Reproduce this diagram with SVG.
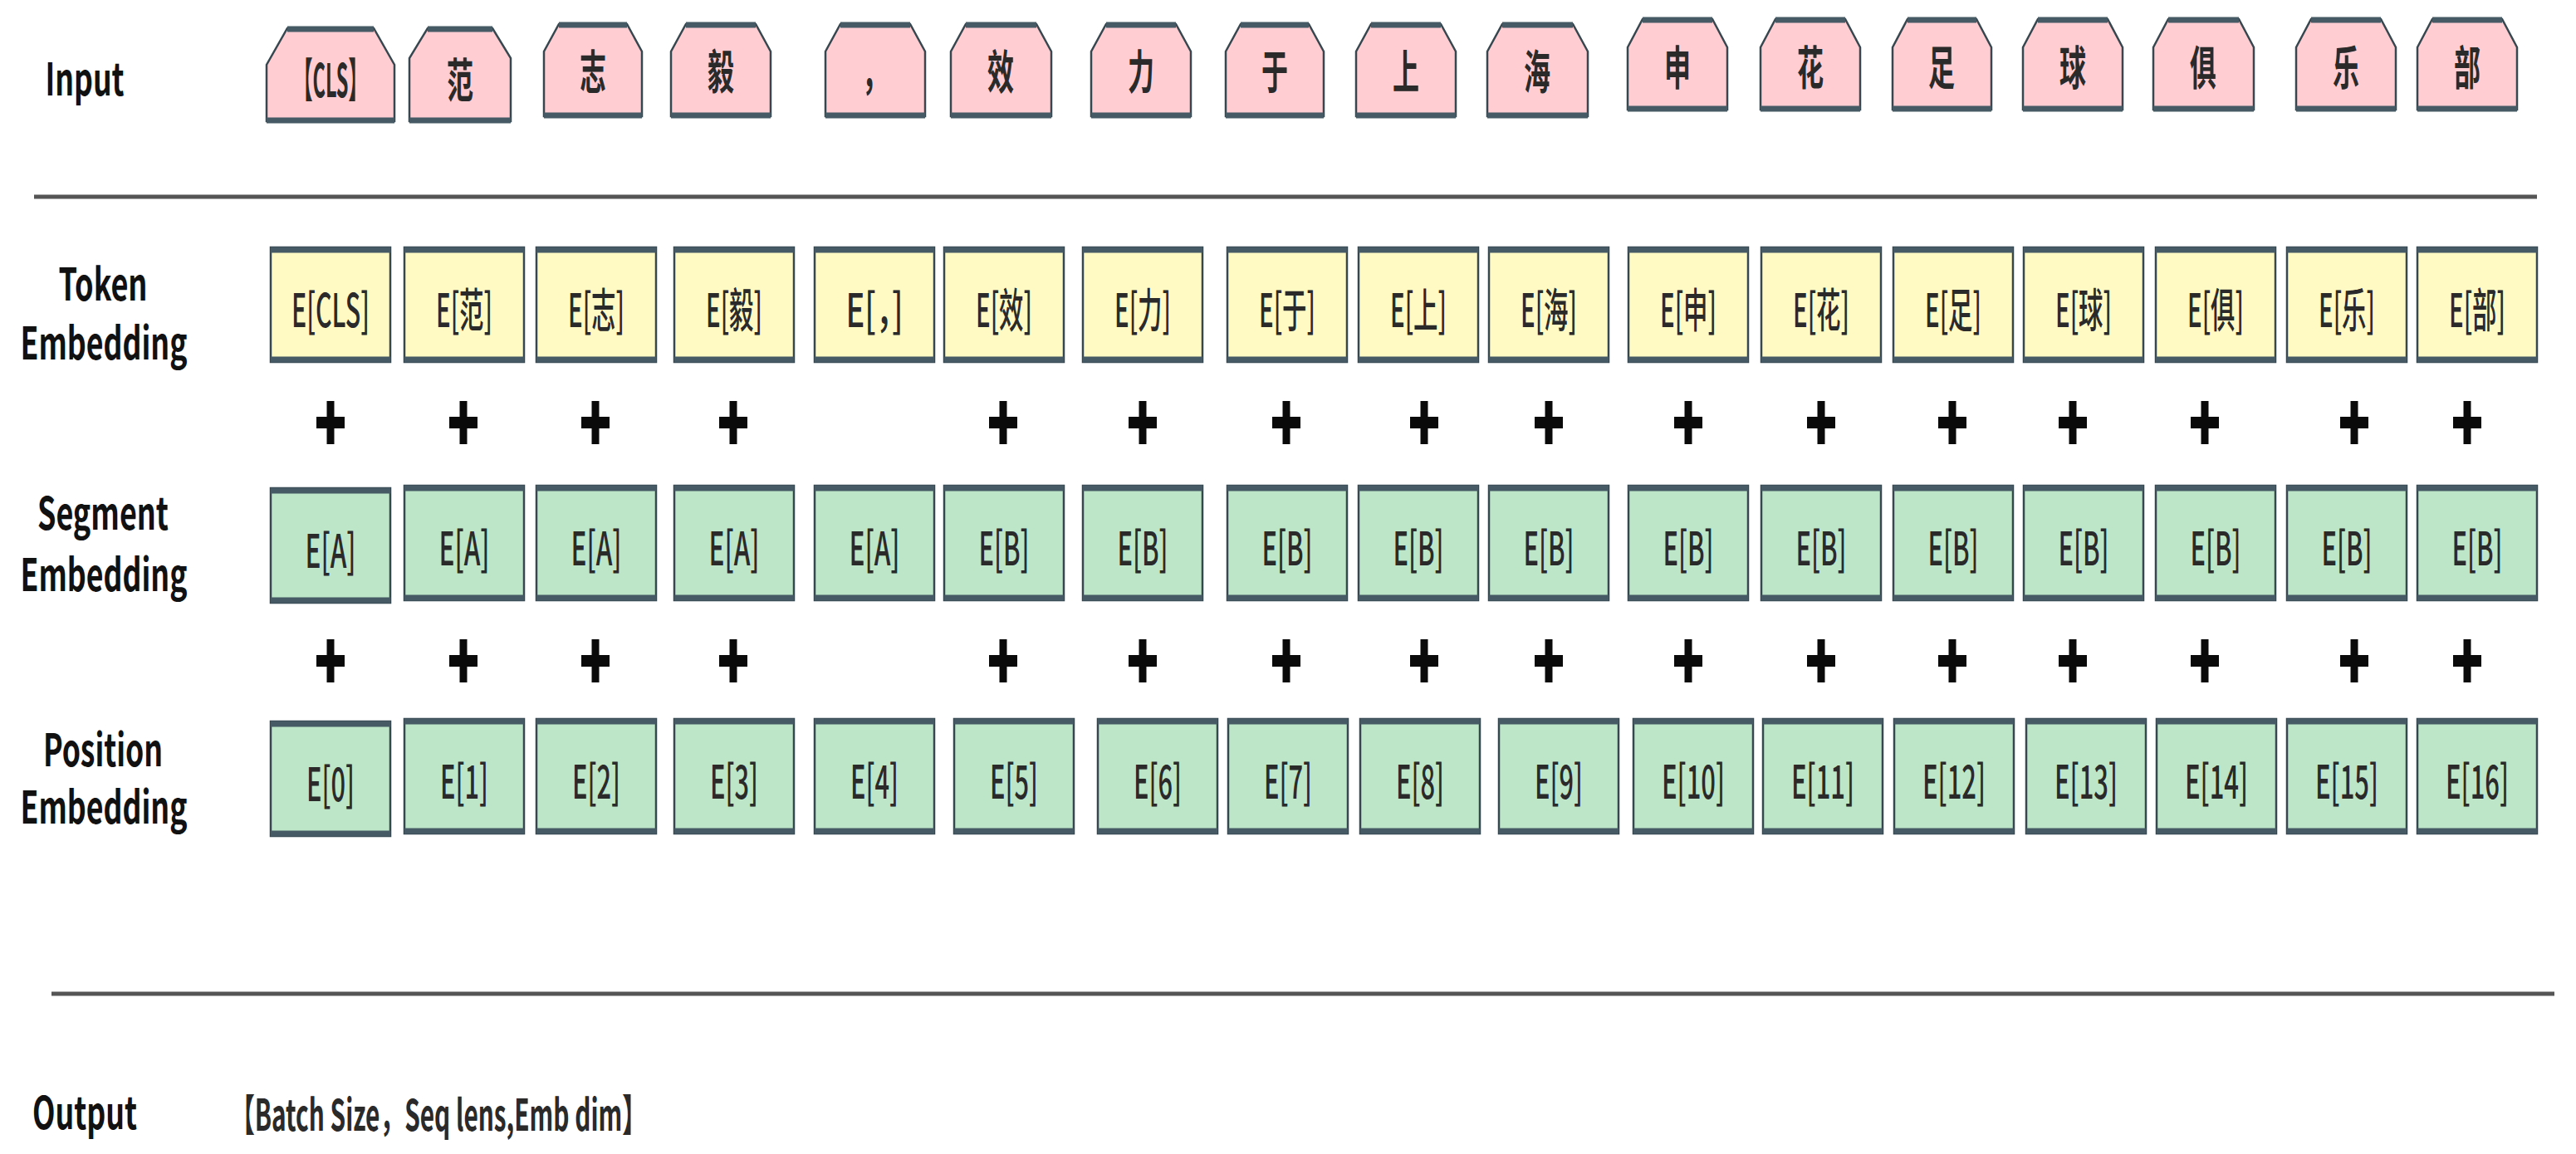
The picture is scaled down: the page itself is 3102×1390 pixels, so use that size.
<svg xmlns="http://www.w3.org/2000/svg" width="3102" height="1390" viewBox="0 0 3102 1390">
<style>
.in{fill:#ffcdd2;stroke:#37474f;stroke-width:2.5}
.tk{fill:#fff9c4;stroke:#37474f;stroke-width:2.5}
.gr{fill:#bde6c8;stroke:#37474f;stroke-width:2.5}
.band{stroke:#455a64;stroke-width:7}
.t{font-family:"Noto Sans CJK SC","Open Sans",sans-serif;font-size:56px;font-weight:500;fill:#2a2a2a;text-anchor:middle;dominant-baseline:central}
.c{font-family:"Noto Sans CJK SC",sans-serif;font-size:56px;font-weight:bold;fill:#2a2a2a;text-anchor:middle;dominant-baseline:central}
.lb{font-family:"Noto Sans CJK SC","Open Sans",sans-serif;font-size:54px;font-weight:bold;fill:#111;text-anchor:middle}
.rule{stroke:#555;stroke-width:5}
.plus{fill:#0a0a0a}
</style>
<defs>
<g id="p"><rect x="-4.5" y="-26" width="9" height="52"/><rect x="-17" y="-7" width="34" height="14"/></g>
</defs>
<g id="labels">
<text class="lb" x="102" y="115" textLength="95" lengthAdjust="spacingAndGlyphs">Input</text>
<text class="lb" x="124" y="362" textLength="107" lengthAdjust="spacingAndGlyphs">Token</text>
<text class="lb" x="125" y="433" textLength="201" lengthAdjust="spacingAndGlyphs">Embedding</text>
<text class="lb" x="124" y="638" textLength="158" lengthAdjust="spacingAndGlyphs">Segment</text>
<text class="lb" x="125" y="712" textLength="201" lengthAdjust="spacingAndGlyphs">Embedding</text>
<text class="lb" x="124" y="923" textLength="144" lengthAdjust="spacingAndGlyphs">Position</text>
<text class="lb" x="125" y="992" textLength="201" lengthAdjust="spacingAndGlyphs">Embedding</text>
<text class="lb" x="102" y="1360" textLength="126" lengthAdjust="spacingAndGlyphs">Output</text>
<text class="lb" x="528" y="1362" textLength="502" lengthAdjust="spacingAndGlyphs" style="font-size:52px;fill:#2a2a2a">【Batch Size，Seq lens,Emb dim】</text>
</g>
<g id="rules">
<line class="rule" x1="41" y1="237" x2="3055" y2="237"/>
<line class="rule" x1="62" y1="1197" x2="3076" y2="1197"/>
</g>
<g id="input">
<g id="in0"><path class="in" d="M346,34H450L475,78V146H321V78Z"/><line class="band" x1="346" y1="35" x2="450" y2="35"/><line class="band" x1="321" y1="145" x2="475" y2="145"/><text class="c" x="398" y="92" textLength="90" lengthAdjust="spacingAndGlyphs">【CLS】</text></g>
<g id="in1"><path class="in" d="M515,34H593L615,70V146H493V70Z"/><line class="band" x1="515" y1="35" x2="593" y2="35"/><line class="band" x1="493" y1="145" x2="615" y2="145"/><text class="c" x="554" y="92" textLength="32" lengthAdjust="spacingAndGlyphs">范</text></g>
<g id="in2"><path class="in" d="M673,29H755L773,62V140H655V62Z"/><line class="band" x1="673" y1="30" x2="755" y2="30"/><line class="band" x1="655" y1="139" x2="773" y2="139"/><text class="c" x="714" y="82" textLength="32" lengthAdjust="spacingAndGlyphs">志</text></g>
<g id="in3"><path class="in" d="M826,29H910L928,62V140H808V62Z"/><line class="band" x1="826" y1="30" x2="910" y2="30"/><line class="band" x1="808" y1="139" x2="928" y2="139"/><text class="c" x="868" y="82" textLength="32" lengthAdjust="spacingAndGlyphs">毅</text></g>
<g id="in4"><path class="in" d="M1012,29H1096L1114,62V140H994V62Z"/><line class="band" x1="1012" y1="30" x2="1096" y2="30"/><line class="band" x1="994" y1="139" x2="1114" y2="139"/><text class="c" x="1054" y="82" textLength="32" lengthAdjust="spacingAndGlyphs">，</text></g>
<g id="in5"><path class="in" d="M1163,29H1248L1266,62V140H1145V62Z"/><line class="band" x1="1163" y1="30" x2="1248" y2="30"/><line class="band" x1="1145" y1="139" x2="1266" y2="139"/><text class="c" x="1205" y="82" textLength="32" lengthAdjust="spacingAndGlyphs">效</text></g>
<g id="in6"><path class="in" d="M1332,29H1416L1434,62V140H1314V62Z"/><line class="band" x1="1332" y1="30" x2="1416" y2="30"/><line class="band" x1="1314" y1="139" x2="1434" y2="139"/><text class="c" x="1374" y="82" textLength="32" lengthAdjust="spacingAndGlyphs">力</text></g>
<g id="in7"><path class="in" d="M1494,29H1576L1594,62V140H1476V62Z"/><line class="band" x1="1494" y1="30" x2="1576" y2="30"/><line class="band" x1="1476" y1="139" x2="1594" y2="139"/><text class="c" x="1535" y="82" textLength="32" lengthAdjust="spacingAndGlyphs">于</text></g>
<g id="in8"><path class="in" d="M1651,29H1735L1753,62V140H1633V62Z"/><line class="band" x1="1651" y1="30" x2="1735" y2="30"/><line class="band" x1="1633" y1="139" x2="1753" y2="139"/><text class="c" x="1693" y="82" textLength="32" lengthAdjust="spacingAndGlyphs">上</text></g>
<g id="in9"><path class="in" d="M1809,29H1894L1912,62V140H1791V62Z"/><line class="band" x1="1809" y1="30" x2="1894" y2="30"/><line class="band" x1="1791" y1="139" x2="1912" y2="139"/><text class="c" x="1851" y="82" textLength="32" lengthAdjust="spacingAndGlyphs">海</text></g>
<g id="in10"><path class="in" d="M1978,23H2062L2080,57V132H1960V57Z"/><line class="band" x1="1978" y1="24" x2="2062" y2="24"/><line class="band" x1="1960" y1="131" x2="2080" y2="131"/><text class="c" x="2020" y="77" textLength="32" lengthAdjust="spacingAndGlyphs">申</text></g>
<g id="in11"><path class="in" d="M2138,23H2222L2240,57V132H2120V57Z"/><line class="band" x1="2138" y1="24" x2="2222" y2="24"/><line class="band" x1="2120" y1="131" x2="2240" y2="131"/><text class="c" x="2180" y="77" textLength="32" lengthAdjust="spacingAndGlyphs">花</text></g>
<g id="in12"><path class="in" d="M2297,23H2380L2398,57V132H2279V57Z"/><line class="band" x1="2297" y1="24" x2="2380" y2="24"/><line class="band" x1="2279" y1="131" x2="2398" y2="131"/><text class="c" x="2338" y="77" textLength="32" lengthAdjust="spacingAndGlyphs">足</text></g>
<g id="in13"><path class="in" d="M2454,23H2538L2556,57V132H2436V57Z"/><line class="band" x1="2454" y1="24" x2="2538" y2="24"/><line class="band" x1="2436" y1="131" x2="2556" y2="131"/><text class="c" x="2496" y="77" textLength="32" lengthAdjust="spacingAndGlyphs">球</text></g>
<g id="in14"><path class="in" d="M2611,23H2696L2714,57V132H2593V57Z"/><line class="band" x1="2611" y1="24" x2="2696" y2="24"/><line class="band" x1="2593" y1="131" x2="2714" y2="131"/><text class="c" x="2653" y="77" textLength="32" lengthAdjust="spacingAndGlyphs">俱</text></g>
<g id="in15"><path class="in" d="M2783,23H2867L2885,57V132H2765V57Z"/><line class="band" x1="2783" y1="24" x2="2867" y2="24"/><line class="band" x1="2765" y1="131" x2="2885" y2="131"/><text class="c" x="2825" y="77" textLength="32" lengthAdjust="spacingAndGlyphs">乐</text></g>
<g id="in16"><path class="in" d="M2929,23H3013L3031,57V132H2911V57Z"/><line class="band" x1="2929" y1="24" x2="3013" y2="24"/><line class="band" x1="2911" y1="131" x2="3031" y2="131"/><text class="c" x="2971" y="77" textLength="32" lengthAdjust="spacingAndGlyphs">部</text></g>
</g>
<g id="token">
<g id="tk0"><rect class="tk" x="326" y="298" width="144" height="138"/><line class="band" x1="326" y1="301" x2="470" y2="301"/><line class="band" x1="326" y1="433" x2="470" y2="433"/><text class="t" x="398" y="369" textLength="94" lengthAdjust="spacingAndGlyphs">E[CLS]</text></g>
<g id="tk1"><rect class="tk" x="487" y="298" width="144" height="138"/><line class="band" x1="487" y1="301" x2="631" y2="301"/><line class="band" x1="487" y1="433" x2="631" y2="433"/><text class="t" x="559" y="369" textLength="68" lengthAdjust="spacingAndGlyphs">E[范]</text></g>
<g id="tk2"><rect class="tk" x="646" y="298" width="144" height="138"/><line class="band" x1="646" y1="301" x2="790" y2="301"/><line class="band" x1="646" y1="433" x2="790" y2="433"/><text class="t" x="718" y="369" textLength="68" lengthAdjust="spacingAndGlyphs">E[志]</text></g>
<g id="tk3"><rect class="tk" x="812" y="298" width="144" height="138"/><line class="band" x1="812" y1="301" x2="956" y2="301"/><line class="band" x1="812" y1="433" x2="956" y2="433"/><text class="t" x="884" y="369" textLength="68" lengthAdjust="spacingAndGlyphs">E[毅]</text></g>
<g id="tk4"><rect class="tk" x="981" y="298" width="144" height="138"/><line class="band" x1="981" y1="301" x2="1125" y2="301"/><line class="band" x1="981" y1="433" x2="1125" y2="433"/><text class="t" x="1053" y="369" textLength="69" lengthAdjust="spacingAndGlyphs">E[，]</text></g>
<g id="tk5"><rect class="tk" x="1137" y="298" width="144" height="138"/><line class="band" x1="1137" y1="301" x2="1281" y2="301"/><line class="band" x1="1137" y1="433" x2="1281" y2="433"/><text class="t" x="1209" y="369" textLength="68" lengthAdjust="spacingAndGlyphs">E[效]</text></g>
<g id="tk6"><rect class="tk" x="1304" y="298" width="144" height="138"/><line class="band" x1="1304" y1="301" x2="1448" y2="301"/><line class="band" x1="1304" y1="433" x2="1448" y2="433"/><text class="t" x="1376" y="369" textLength="68" lengthAdjust="spacingAndGlyphs">E[力]</text></g>
<g id="tk7"><rect class="tk" x="1478" y="298" width="144" height="138"/><line class="band" x1="1478" y1="301" x2="1622" y2="301"/><line class="band" x1="1478" y1="433" x2="1622" y2="433"/><text class="t" x="1550" y="369" textLength="68" lengthAdjust="spacingAndGlyphs">E[于]</text></g>
<g id="tk8"><rect class="tk" x="1636" y="298" width="144" height="138"/><line class="band" x1="1636" y1="301" x2="1780" y2="301"/><line class="band" x1="1636" y1="433" x2="1780" y2="433"/><text class="t" x="1708" y="369" textLength="68" lengthAdjust="spacingAndGlyphs">E[上]</text></g>
<g id="tk9"><rect class="tk" x="1793" y="298" width="144" height="138"/><line class="band" x1="1793" y1="301" x2="1937" y2="301"/><line class="band" x1="1793" y1="433" x2="1937" y2="433"/><text class="t" x="1865" y="369" textLength="68" lengthAdjust="spacingAndGlyphs">E[海]</text></g>
<g id="tk10"><rect class="tk" x="1961" y="298" width="144" height="138"/><line class="band" x1="1961" y1="301" x2="2105" y2="301"/><line class="band" x1="1961" y1="433" x2="2105" y2="433"/><text class="t" x="2033" y="369" textLength="68" lengthAdjust="spacingAndGlyphs">E[申]</text></g>
<g id="tk11"><rect class="tk" x="2121" y="298" width="144" height="138"/><line class="band" x1="2121" y1="301" x2="2265" y2="301"/><line class="band" x1="2121" y1="433" x2="2265" y2="433"/><text class="t" x="2193" y="369" textLength="68" lengthAdjust="spacingAndGlyphs">E[花]</text></g>
<g id="tk12"><rect class="tk" x="2280" y="298" width="144" height="138"/><line class="band" x1="2280" y1="301" x2="2424" y2="301"/><line class="band" x1="2280" y1="433" x2="2424" y2="433"/><text class="t" x="2352" y="369" textLength="68" lengthAdjust="spacingAndGlyphs">E[足]</text></g>
<g id="tk13"><rect class="tk" x="2437" y="298" width="144" height="138"/><line class="band" x1="2437" y1="301" x2="2581" y2="301"/><line class="band" x1="2437" y1="433" x2="2581" y2="433"/><text class="t" x="2509" y="369" textLength="68" lengthAdjust="spacingAndGlyphs">E[球]</text></g>
<g id="tk14"><rect class="tk" x="2596" y="298" width="144" height="138"/><line class="band" x1="2596" y1="301" x2="2740" y2="301"/><line class="band" x1="2596" y1="433" x2="2740" y2="433"/><text class="t" x="2668" y="369" textLength="68" lengthAdjust="spacingAndGlyphs">E[俱]</text></g>
<g id="tk15"><rect class="tk" x="2754" y="298" width="144" height="138"/><line class="band" x1="2754" y1="301" x2="2898" y2="301"/><line class="band" x1="2754" y1="433" x2="2898" y2="433"/><text class="t" x="2826" y="369" textLength="68" lengthAdjust="spacingAndGlyphs">E[乐]</text></g>
<g id="tk16"><rect class="tk" x="2911" y="298" width="144" height="138"/><line class="band" x1="2911" y1="301" x2="3055" y2="301"/><line class="band" x1="2911" y1="433" x2="3055" y2="433"/><text class="t" x="2983" y="369" textLength="68" lengthAdjust="spacingAndGlyphs">E[部]</text></g>
</g>
<g id="plus" class="plus">
<use href="#p" x="398" y="509"/><use href="#p" x="558" y="509"/><use href="#p" x="717" y="509"/><use href="#p" x="883" y="509"/><use href="#p" x="1208" y="509"/><use href="#p" x="1376" y="509"/><use href="#p" x="1549" y="509"/><use href="#p" x="1715" y="509"/><use href="#p" x="1865" y="509"/><use href="#p" x="2033" y="509"/><use href="#p" x="2193" y="509"/><use href="#p" x="2351" y="509"/><use href="#p" x="2496" y="509"/><use href="#p" x="2655" y="509"/><use href="#p" x="2835" y="509"/><use href="#p" x="2971" y="509"/>
<use href="#p" x="398" y="796"/><use href="#p" x="558" y="796"/><use href="#p" x="717" y="796"/><use href="#p" x="883" y="796"/><use href="#p" x="1208" y="796"/><use href="#p" x="1376" y="796"/><use href="#p" x="1549" y="796"/><use href="#p" x="1715" y="796"/><use href="#p" x="1865" y="796"/><use href="#p" x="2033" y="796"/><use href="#p" x="2193" y="796"/><use href="#p" x="2351" y="796"/><use href="#p" x="2496" y="796"/><use href="#p" x="2655" y="796"/><use href="#p" x="2835" y="796"/><use href="#p" x="2971" y="796"/>
</g>
<g id="segment">
<g id="sg0"><rect class="gr" x="326" y="588" width="144" height="138"/><line class="band" x1="326" y1="591" x2="470" y2="591"/><line class="band" x1="326" y1="723" x2="470" y2="723"/><text class="t" x="398" y="659" textLength="61" lengthAdjust="spacingAndGlyphs">E[A]</text></g>
<g id="sg1"><rect class="gr" x="487" y="585" width="144" height="138"/><line class="band" x1="487" y1="588" x2="631" y2="588"/><line class="band" x1="487" y1="720" x2="631" y2="720"/><text class="t" x="559" y="656" textLength="61" lengthAdjust="spacingAndGlyphs">E[A]</text></g>
<g id="sg2"><rect class="gr" x="646" y="585" width="144" height="138"/><line class="band" x1="646" y1="588" x2="790" y2="588"/><line class="band" x1="646" y1="720" x2="790" y2="720"/><text class="t" x="718" y="656" textLength="61" lengthAdjust="spacingAndGlyphs">E[A]</text></g>
<g id="sg3"><rect class="gr" x="812" y="585" width="144" height="138"/><line class="band" x1="812" y1="588" x2="956" y2="588"/><line class="band" x1="812" y1="720" x2="956" y2="720"/><text class="t" x="884" y="656" textLength="61" lengthAdjust="spacingAndGlyphs">E[A]</text></g>
<g id="sg4"><rect class="gr" x="981" y="585" width="144" height="138"/><line class="band" x1="981" y1="588" x2="1125" y2="588"/><line class="band" x1="981" y1="720" x2="1125" y2="720"/><text class="t" x="1053" y="656" textLength="61" lengthAdjust="spacingAndGlyphs">E[A]</text></g>
<g id="sg5"><rect class="gr" x="1137" y="585" width="144" height="138"/><line class="band" x1="1137" y1="588" x2="1281" y2="588"/><line class="band" x1="1137" y1="720" x2="1281" y2="720"/><text class="t" x="1209" y="656" textLength="61" lengthAdjust="spacingAndGlyphs">E[B]</text></g>
<g id="sg6"><rect class="gr" x="1304" y="585" width="144" height="138"/><line class="band" x1="1304" y1="588" x2="1448" y2="588"/><line class="band" x1="1304" y1="720" x2="1448" y2="720"/><text class="t" x="1376" y="656" textLength="61" lengthAdjust="spacingAndGlyphs">E[B]</text></g>
<g id="sg7"><rect class="gr" x="1478" y="585" width="144" height="138"/><line class="band" x1="1478" y1="588" x2="1622" y2="588"/><line class="band" x1="1478" y1="720" x2="1622" y2="720"/><text class="t" x="1550" y="656" textLength="61" lengthAdjust="spacingAndGlyphs">E[B]</text></g>
<g id="sg8"><rect class="gr" x="1636" y="585" width="144" height="138"/><line class="band" x1="1636" y1="588" x2="1780" y2="588"/><line class="band" x1="1636" y1="720" x2="1780" y2="720"/><text class="t" x="1708" y="656" textLength="61" lengthAdjust="spacingAndGlyphs">E[B]</text></g>
<g id="sg9"><rect class="gr" x="1793" y="585" width="144" height="138"/><line class="band" x1="1793" y1="588" x2="1937" y2="588"/><line class="band" x1="1793" y1="720" x2="1937" y2="720"/><text class="t" x="1865" y="656" textLength="61" lengthAdjust="spacingAndGlyphs">E[B]</text></g>
<g id="sg10"><rect class="gr" x="1961" y="585" width="144" height="138"/><line class="band" x1="1961" y1="588" x2="2105" y2="588"/><line class="band" x1="1961" y1="720" x2="2105" y2="720"/><text class="t" x="2033" y="656" textLength="61" lengthAdjust="spacingAndGlyphs">E[B]</text></g>
<g id="sg11"><rect class="gr" x="2121" y="585" width="144" height="138"/><line class="band" x1="2121" y1="588" x2="2265" y2="588"/><line class="band" x1="2121" y1="720" x2="2265" y2="720"/><text class="t" x="2193" y="656" textLength="61" lengthAdjust="spacingAndGlyphs">E[B]</text></g>
<g id="sg12"><rect class="gr" x="2280" y="585" width="144" height="138"/><line class="band" x1="2280" y1="588" x2="2424" y2="588"/><line class="band" x1="2280" y1="720" x2="2424" y2="720"/><text class="t" x="2352" y="656" textLength="61" lengthAdjust="spacingAndGlyphs">E[B]</text></g>
<g id="sg13"><rect class="gr" x="2437" y="585" width="144" height="138"/><line class="band" x1="2437" y1="588" x2="2581" y2="588"/><line class="band" x1="2437" y1="720" x2="2581" y2="720"/><text class="t" x="2509" y="656" textLength="61" lengthAdjust="spacingAndGlyphs">E[B]</text></g>
<g id="sg14"><rect class="gr" x="2596" y="585" width="144" height="138"/><line class="band" x1="2596" y1="588" x2="2740" y2="588"/><line class="band" x1="2596" y1="720" x2="2740" y2="720"/><text class="t" x="2668" y="656" textLength="61" lengthAdjust="spacingAndGlyphs">E[B]</text></g>
<g id="sg15"><rect class="gr" x="2754" y="585" width="144" height="138"/><line class="band" x1="2754" y1="588" x2="2898" y2="588"/><line class="band" x1="2754" y1="720" x2="2898" y2="720"/><text class="t" x="2826" y="656" textLength="61" lengthAdjust="spacingAndGlyphs">E[B]</text></g>
<g id="sg16"><rect class="gr" x="2911" y="585" width="144" height="138"/><line class="band" x1="2911" y1="588" x2="3055" y2="588"/><line class="band" x1="2911" y1="720" x2="3055" y2="720"/><text class="t" x="2983" y="656" textLength="61" lengthAdjust="spacingAndGlyphs">E[B]</text></g>
</g>
<g id="position">
<g id="ps0"><rect class="gr" x="326" y="869" width="144" height="138"/><line class="band" x1="326" y1="872" x2="470" y2="872"/><line class="band" x1="326" y1="1004" x2="470" y2="1004"/><text class="t" x="398" y="940" textLength="58" lengthAdjust="spacingAndGlyphs">E[0]</text></g>
<g id="ps1"><rect class="gr" x="487" y="866" width="144" height="138"/><line class="band" x1="487" y1="869" x2="631" y2="869"/><line class="band" x1="487" y1="1001" x2="631" y2="1001"/><text class="t" x="559" y="937" textLength="58" lengthAdjust="spacingAndGlyphs">E[1]</text></g>
<g id="ps2"><rect class="gr" x="646" y="866" width="144" height="138"/><line class="band" x1="646" y1="869" x2="790" y2="869"/><line class="band" x1="646" y1="1001" x2="790" y2="1001"/><text class="t" x="718" y="937" textLength="58" lengthAdjust="spacingAndGlyphs">E[2]</text></g>
<g id="ps3"><rect class="gr" x="812" y="866" width="144" height="138"/><line class="band" x1="812" y1="869" x2="956" y2="869"/><line class="band" x1="812" y1="1001" x2="956" y2="1001"/><text class="t" x="884" y="937" textLength="58" lengthAdjust="spacingAndGlyphs">E[3]</text></g>
<g id="ps4"><rect class="gr" x="981" y="866" width="144" height="138"/><line class="band" x1="981" y1="869" x2="1125" y2="869"/><line class="band" x1="981" y1="1001" x2="1125" y2="1001"/><text class="t" x="1053" y="937" textLength="58" lengthAdjust="spacingAndGlyphs">E[4]</text></g>
<g id="ps5"><rect class="gr" x="1149" y="866" width="144" height="138"/><line class="band" x1="1149" y1="869" x2="1293" y2="869"/><line class="band" x1="1149" y1="1001" x2="1293" y2="1001"/><text class="t" x="1221" y="937" textLength="58" lengthAdjust="spacingAndGlyphs">E[5]</text></g>
<g id="ps6"><rect class="gr" x="1322" y="866" width="144" height="138"/><line class="band" x1="1322" y1="869" x2="1466" y2="869"/><line class="band" x1="1322" y1="1001" x2="1466" y2="1001"/><text class="t" x="1394" y="937" textLength="58" lengthAdjust="spacingAndGlyphs">E[6]</text></g>
<g id="ps7"><rect class="gr" x="1479" y="866" width="144" height="138"/><line class="band" x1="1479" y1="869" x2="1623" y2="869"/><line class="band" x1="1479" y1="1001" x2="1623" y2="1001"/><text class="t" x="1551" y="937" textLength="58" lengthAdjust="spacingAndGlyphs">E[7]</text></g>
<g id="ps8"><rect class="gr" x="1638" y="866" width="144" height="138"/><line class="band" x1="1638" y1="869" x2="1782" y2="869"/><line class="band" x1="1638" y1="1001" x2="1782" y2="1001"/><text class="t" x="1710" y="937" textLength="58" lengthAdjust="spacingAndGlyphs">E[8]</text></g>
<g id="ps9"><rect class="gr" x="1805" y="866" width="144" height="138"/><line class="band" x1="1805" y1="869" x2="1949" y2="869"/><line class="band" x1="1805" y1="1001" x2="1949" y2="1001"/><text class="t" x="1877" y="937" textLength="58" lengthAdjust="spacingAndGlyphs">E[9]</text></g>
<g id="ps10"><rect class="gr" x="1967" y="866" width="144" height="138"/><line class="band" x1="1967" y1="869" x2="2111" y2="869"/><line class="band" x1="1967" y1="1001" x2="2111" y2="1001"/><text class="t" x="2039" y="937" textLength="76" lengthAdjust="spacingAndGlyphs">E[10]</text></g>
<g id="ps11"><rect class="gr" x="2123" y="866" width="144" height="138"/><line class="band" x1="2123" y1="869" x2="2267" y2="869"/><line class="band" x1="2123" y1="1001" x2="2267" y2="1001"/><text class="t" x="2195" y="937" textLength="76" lengthAdjust="spacingAndGlyphs">E[11]</text></g>
<g id="ps12"><rect class="gr" x="2281" y="866" width="144" height="138"/><line class="band" x1="2281" y1="869" x2="2425" y2="869"/><line class="band" x1="2281" y1="1001" x2="2425" y2="1001"/><text class="t" x="2353" y="937" textLength="76" lengthAdjust="spacingAndGlyphs">E[12]</text></g>
<g id="ps13"><rect class="gr" x="2440" y="866" width="144" height="138"/><line class="band" x1="2440" y1="869" x2="2584" y2="869"/><line class="band" x1="2440" y1="1001" x2="2584" y2="1001"/><text class="t" x="2512" y="937" textLength="76" lengthAdjust="spacingAndGlyphs">E[13]</text></g>
<g id="ps14"><rect class="gr" x="2597" y="866" width="144" height="138"/><line class="band" x1="2597" y1="869" x2="2741" y2="869"/><line class="band" x1="2597" y1="1001" x2="2741" y2="1001"/><text class="t" x="2669" y="937" textLength="76" lengthAdjust="spacingAndGlyphs">E[14]</text></g>
<g id="ps15"><rect class="gr" x="2754" y="866" width="144" height="138"/><line class="band" x1="2754" y1="869" x2="2898" y2="869"/><line class="band" x1="2754" y1="1001" x2="2898" y2="1001"/><text class="t" x="2826" y="937" textLength="76" lengthAdjust="spacingAndGlyphs">E[15]</text></g>
<g id="ps16"><rect class="gr" x="2911" y="866" width="144" height="138"/><line class="band" x1="2911" y1="869" x2="3055" y2="869"/><line class="band" x1="2911" y1="1001" x2="3055" y2="1001"/><text class="t" x="2983" y="937" textLength="76" lengthAdjust="spacingAndGlyphs">E[16]</text></g>
</g>
</svg>
